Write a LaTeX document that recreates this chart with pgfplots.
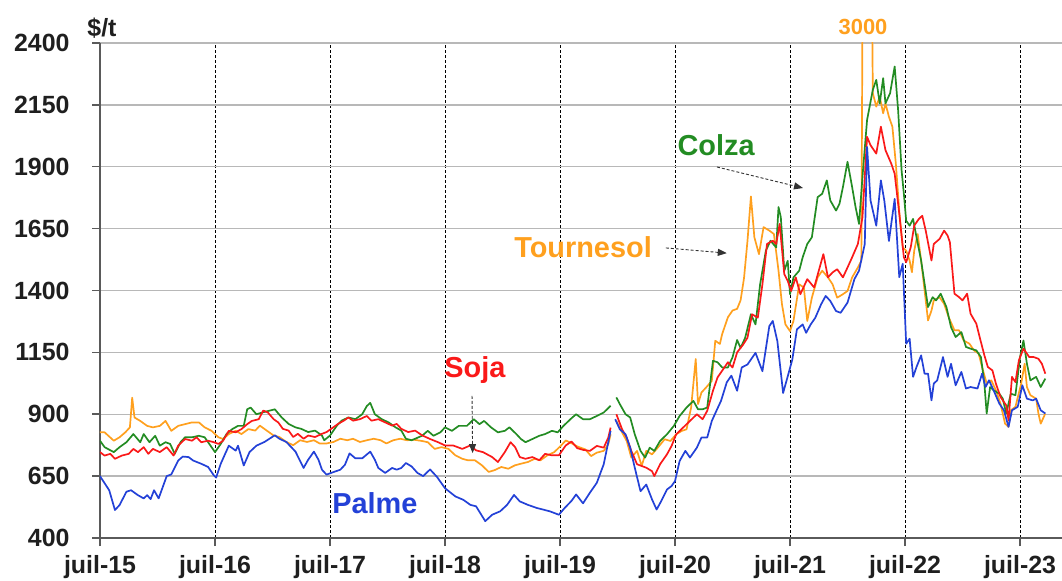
\documentclass[border=0pt]{standalone}
\usepackage{fontspec}
\setmainfont{Liberation Sans}
\usepackage{pgfplots}
\usepackage{pgfplotstable}
\pgfplotsset{compat=1.18}
\usetikzlibrary{arrows.meta}

\definecolor{cpalme}{RGB}{35,65,215}
\definecolor{csoja}{RGB}{250,25,25}
\definecolor{ccolza}{RGB}{35,140,35}
\definecolor{ctourn}{RGB}{255,160,30}
\definecolor{axgray}{RGB}{90,90,90}

\pgfplotstableread{
x y
2015.50 650
2015.58 593
2015.63 513
2015.67 533
2015.73 587
2015.77 593
2015.83 573
2015.88 560
2015.91 573
2015.94 557
2015.97 593
2016.01 560
2016.08 650
2016.12 657
2016.18 713
2016.22 729
2016.27 727
2016.31 713
2016.38 700
2016.44 687
2016.49 653
2016.51 644
2016.55 700
2016.62 773
2016.68 753
2016.70 773
2016.75 693
2016.80 747
2016.86 773
2016.93 788
2017.02 815
2017.06 801
2017.12 788
2017.20 749
2017.27 683
2017.31 716
2017.36 749
2017.40 716
2017.43 676
2017.47 656
2017.51 663
2017.59 676
2017.63 696
2017.67 742
2017.72 722
2017.78 722
2017.85 749
2017.89 716
2017.92 683
2017.98 663
2018.04 683
2018.08 676
2018.12 683
2018.16 703
2018.21 689
2018.26 663
2018.31 650
2018.37 677
2018.43 647
2018.50 601
2018.59 568
2018.66 554
2018.72 534
2018.77 528
2018.85 468
2018.91 494
2018.98 508
2019.04 534
2019.10 574
2019.15 548
2019.22 534
2019.30 521
2019.36 514
2019.41 508
2019.49 494
2019.54 521
2019.60 550
2019.64 576
2019.70 540
2019.76 583
2019.82 623
2019.88 698
2019.94 833
2019.96 nan
2019.98 880
2020.02 839
2020.07 819
2020.11 765
2020.15 684
2020.20 589
2020.25 616
2020.30 556
2020.34 515
2020.38 549
2020.43 596
2020.47 610
2020.50 630
2020.54 711
2020.59 752
2020.63 725
2020.69 765
2020.73 806
2020.78 806
2020.82 873
2020.86 914
2020.90 954
2020.95 1029
2020.99 1056
2021.04 995
2021.08 1089
2021.13 1101
2021.20 1148
2021.26 1074
2021.32 1256
2021.35 1277
2021.39 1195
2021.44 986
2021.48 1053
2021.52 1121
2021.56 1243
2021.61 1263
2021.64 1229
2021.68 1263
2021.72 1290
2021.77 1344
2021.81 1378
2021.85 1358
2021.90 1317
2021.94 1310
2022.00 1351
2022.06 1446
2022.10 1480
2022.15 1588
2022.17 1980
2022.20 1764
2022.25 1662
2022.29 1845
2022.32 1763
2022.36 1600
2022.41 1770
2022.45 1454
2022.48 1508
2022.51 1185
2022.54 1205
2022.57 1051
2022.60 1091
2022.64 1138
2022.67 1064
2022.70 1064
2022.73 956
2022.75 1024
2022.78 1037
2022.83 1131
2022.87 1051
2022.90 1104
2022.94 1017
2022.99 1071
2023.03 1004
2023.07 1010
2023.13 1004
2023.17 1064
2023.20 1010
2023.23 1037
2023.27 997
2023.32 943
2023.36 916
2023.40 849
2023.43 916
2023.48 930
2023.52 1017
2023.56 963
2023.61 956
2023.64 963
2023.68 916
2023.72 903
}\palme

\pgfplotstableread{
x y
2015.50 747
2015.54 733
2015.59 740
2015.63 720
2015.69 733
2015.75 740
2015.79 760
2015.83 747
2015.88 767
2015.92 740
2015.96 760
2016.02 747
2016.08 767
2016.14 733
2016.18 773
2016.24 800
2016.30 793
2016.34 807
2016.38 787
2016.44 793
2016.49 787
2016.53 780
2016.57 793
2016.62 833
2016.68 827
2016.73 840
2016.78 860
2016.82 873
2016.88 880
2016.92 915
2016.96 907
2017.01 880
2017.05 867
2017.09 841
2017.14 834
2017.18 808
2017.22 821
2017.27 801
2017.31 814
2017.37 808
2017.43 821
2017.47 828
2017.51 841
2017.57 861
2017.62 874
2017.66 887
2017.70 874
2017.76 880
2017.82 893
2017.86 874
2017.92 880
2017.98 867
2018.04 854
2018.08 861
2018.12 841
2018.18 828
2018.24 834
2018.30 815
2018.37 800
2018.44 787
2018.50 774
2018.57 774
2018.65 760
2018.72 774
2018.77 754
2018.83 747
2018.91 727
2018.96 707
2019.02 747
2019.07 787
2019.11 767
2019.15 727
2019.20 720
2019.26 727
2019.32 714
2019.37 740
2019.43 734
2019.49 734
2019.55 774
2019.60 790
2019.65 763
2019.70 756
2019.76 752
2019.82 772
2019.88 765
2019.92 806
2019.94 846
2019.96 nan
2019.99 900
2020.04 839
2020.08 806
2020.12 752
2020.17 698
2020.21 691
2020.25 684
2020.30 670
2020.32 650
2020.37 698
2020.43 738
2020.47 772
2020.51 819
2020.57 846
2020.63 873
2020.69 900
2020.74 880
2020.78 914
2020.83 995
2020.87 1049
2020.91 1076
2020.96 1110
2021.00 1089
2021.04 1150
2021.09 1180
2021.13 1209
2021.17 1304
2021.22 1290
2021.26 1425
2021.30 1588
2021.35 1601
2021.38 1588
2021.41 1669
2021.45 1466
2021.48 1439
2021.51 1398
2021.55 1453
2021.59 1385
2021.65 1446
2021.71 1412
2021.75 1480
2021.79 1547
2021.83 1453
2021.87 1473
2021.91 1486
2021.96 1453
2022.00 1493
2022.04 1534
2022.09 1588
2022.13 1696
2022.17 2021
2022.20 1987
2022.25 1953
2022.29 2062
2022.33 1967
2022.38 1913
2022.41 1872
2022.45 1710
2022.49 1534
2022.51 1514
2022.55 1575
2022.58 1662
2022.62 1689
2022.65 1702
2022.68 1642
2022.73 1521
2022.75 1588
2022.80 1608
2022.84 1642
2022.87 1622
2022.89 1595
2022.93 1387
2022.97 1373
2023.00 1360
2023.04 1387
2023.07 1306
2023.12 1266
2023.16 1192
2023.19 1138
2023.22 1091
2023.26 1077
2023.29 1024
2023.33 970
2023.38 936
2023.40 876
2023.43 1051
2023.46 1030
2023.49 1118
2023.53 1165
2023.58 1131
2023.62 1131
2023.66 1124
2023.69 1104
2023.72 1064
}\soja

\pgfplotstableread{
x y
2015.50 793
2015.54 767
2015.62 747
2015.67 767
2015.73 787
2015.79 820
2015.85 787
2015.88 820
2015.93 787
2015.98 813
2016.02 773
2016.07 787
2016.11 780
2016.15 740
2016.20 787
2016.24 807
2016.30 807
2016.36 813
2016.41 807
2016.47 767
2016.50 747
2016.55 780
2016.60 820
2016.65 840
2016.70 853
2016.75 853
2016.78 920
2016.81 927
2016.86 900
2016.91 907
2016.96 913
2017.02 920
2017.08 887
2017.14 861
2017.20 847
2017.25 841
2017.31 828
2017.37 834
2017.43 814
2017.45 795
2017.50 814
2017.56 854
2017.60 874
2017.66 887
2017.72 880
2017.78 900
2017.82 933
2017.85 946
2017.89 900
2017.95 880
2018.01 867
2018.07 847
2018.12 834
2018.16 801
2018.21 795
2018.26 805
2018.30 813
2018.35 833
2018.40 813
2018.46 827
2018.50 847
2018.56 833
2018.62 853
2018.69 853
2018.75 880
2018.80 860
2018.84 873
2018.90 847
2018.96 827
2019.02 833
2019.06 847
2019.12 820
2019.16 800
2019.20 787
2019.26 800
2019.32 813
2019.37 820
2019.43 833
2019.48 827
2019.53 853
2019.60 884
2019.64 900
2019.70 880
2019.76 880
2019.82 893
2019.88 907
2019.94 934
2019.96 nan
2019.99 968
2020.02 941
2020.07 900
2020.11 887
2020.15 819
2020.20 752
2020.24 725
2020.28 765
2020.32 752
2020.37 792
2020.43 819
2020.49 853
2020.54 893
2020.60 927
2020.66 954
2020.70 920
2020.74 920
2020.78 927
2020.83 1116
2020.87 1110
2020.91 1089
2020.96 1089
2021.00 1130
2021.04 1200
2021.07 1168
2021.11 1209
2021.16 1304
2021.20 1263
2021.24 1425
2021.29 1561
2021.33 1601
2021.38 1574
2021.40 1737
2021.42 1696
2021.45 1480
2021.48 1520
2021.50 1385
2021.53 1453
2021.58 1480
2021.61 1534
2021.65 1588
2021.69 1615
2021.74 1777
2021.78 1791
2021.82 1845
2021.85 1764
2021.90 1723
2021.93 1750
2021.96 1818
2022.00 1920
2022.04 1818
2022.07 1737
2022.10 1669
2022.13 1859
2022.17 2089
2022.22 2211
2022.25 2251
2022.28 2156
2022.31 2258
2022.33 2156
2022.37 2197
2022.41 2305
2022.44 2129
2022.47 1886
2022.49 1790
2022.51 1682
2022.54 1662
2022.57 1689
2022.60 1615
2022.64 1521
2022.67 1427
2022.70 1333
2022.74 1373
2022.77 1360
2022.81 1387
2022.86 1333
2022.90 1252
2022.94 1212
2022.99 1232
2023.03 1172
2023.07 1165
2023.12 1158
2023.16 1131
2023.19 1024
2023.21 903
2023.24 1010
2023.27 997
2023.32 983
2023.35 963
2023.38 903
2023.42 983
2023.46 977
2023.50 1131
2023.53 1198
2023.56 1104
2023.59 1037
2023.64 1051
2023.68 1010
2023.72 1044
}\colza

\pgfplotstableread{
x y
2015.50 827
2015.54 827
2015.62 793
2015.67 807
2015.72 827
2015.76 847
2015.78 967
2015.80 887
2015.85 873
2015.91 853
2015.96 847
2016.02 853
2016.07 873
2016.12 833
2016.18 853
2016.24 860
2016.30 867
2016.36 867
2016.41 847
2016.47 833
2016.53 807
2016.57 800
2016.62 820
2016.68 833
2016.73 820
2016.79 840
2016.85 834
2016.89 854
2016.95 834
2017.01 814
2017.06 808
2017.12 788
2017.18 775
2017.24 795
2017.30 788
2017.36 795
2017.41 782
2017.47 782
2017.53 788
2017.59 801
2017.65 795
2017.70 801
2017.76 788
2017.82 795
2017.88 801
2017.94 795
2017.99 782
2018.05 795
2018.11 801
2018.17 795
2018.23 797
2018.30 792
2018.35 787
2018.41 760
2018.47 767
2018.53 760
2018.59 734
2018.65 720
2018.70 714
2018.76 714
2018.82 694
2018.88 667
2018.93 674
2018.99 687
2019.05 680
2019.11 694
2019.16 700
2019.22 707
2019.28 720
2019.33 714
2019.39 734
2019.45 747
2019.51 774
2019.55 794
2019.60 783
2019.65 770
2019.72 758
2019.77 731
2019.82 745
2019.88 752
2019.92 779
2019.94 819
2019.96 nan
2019.99 873
2020.04 826
2020.08 792
2020.12 725
2020.17 752
2020.21 691
2020.25 752
2020.30 738
2020.35 765
2020.41 799
2020.46 792
2020.51 819
2020.56 833
2020.60 839
2020.64 927
2020.68 1123
2020.70 941
2020.73 988
2020.77 1008
2020.82 1035
2020.85 1197
2020.89 1184
2020.91 1224
2020.96 1292
2021.00 1319
2021.04 1326
2021.07 1360
2021.10 1450
2021.13 1600
2021.16 1780
2021.19 1615
2021.23 1547
2021.27 1656
2021.32 1642
2021.36 1628
2021.40 1480
2021.43 1344
2021.46 1263
2021.50 1236
2021.53 1277
2021.58 1425
2021.62 1412
2021.65 1277
2021.69 1371
2021.74 1453
2021.78 1480
2021.83 1453
2021.87 1425
2021.91 1371
2021.96 1385
2022.00 1398
2022.04 1453
2022.09 1493
2022.12 1520
2022.135 3000
2022.205 3000
2022.22 2197
2022.25 2143
2022.28 2183
2022.31 2116
2022.33 2156
2022.36 2102
2022.39 2062
2022.42 1913
2022.45 1720
2022.48 1575
2022.51 1561
2022.54 1521
2022.56 1474
2022.58 1561
2022.61 1628
2022.64 1521
2022.67 1400
2022.70 1279
2022.73 1319
2022.75 1360
2022.80 1373
2022.84 1346
2022.88 1292
2022.93 1239
2022.97 1239
2023.01 1198
2023.06 1185
2023.10 1158
2023.14 1145
2023.17 1091
2023.21 1024
2023.25 1037
2023.29 997
2023.33 943
2023.37 862
2023.40 849
2023.42 916
2023.46 930
2023.51 1024
2023.54 1104
2023.56 1010
2023.59 977
2023.64 963
2023.66 903
2023.68 862
2023.72 903
}\tournesol

\begin{document}
\begin{tikzpicture}
\begin{axis}[
  name=ax,
  scale only axis, width=962bp, height=495bp,
  xmin=2015.5, xmax=2023.865, ymin=400, ymax=2400,
  axis x line*=bottom, axis y line*=left,
  axis line style={axgray, line width=2.5bp},
  xtick={2015.5,2016.5,2017.5,2018.5,2019.5,2020.5,2021.5,2022.5,2023.5},
  xticklabels={juil-15,juil-16,juil-17,juil-18,juil-19,juil-20,juil-21,juil-22,juil-23},
  ytick={400,650,900,1150,1400,1650,1900,2150,2400},
  yticklabels={400,650,900,1150,1400,1650,1900,2150,2400},
  tick align=outside, major tick length=8bp,
  tick style={axgray, line width=1.5bp},
  xmajorgrids, ymajorgrids,
  x grid style={black, dash pattern=on 3bp off 2bp, line width=1bp},
  y grid style={black!28, line width=1.3bp},
  ticklabel style={font=\fontsize{25}{25}\selectfont\bfseries, text=black!88},
  yticklabel style={xshift=-19bp},
  xticklabel style={yshift=-6bp},
  unbounded coords=jump,
  every axis plot/.append style={line width=1.7bp, line join=round},
]
\addplot[ctourn, no marks] table {\tournesol};
\addplot[ccolza, no marks] table {\colza};
\addplot[csoja, no marks] table {\soja};
\addplot[cpalme, no marks] table {\palme};
\coordinate (O) at (rel axis cs:0,0);
\coordinate (tColza) at (axis cs:2020.857,1988);
\coordinate (aColza1) at (axis cs:2020.865,1899);
\coordinate (aColza2) at (axis cs:2021.613,1814);
\coordinate (tTourn) at (axis cs:2019.70,1576);
\coordinate (aTourn1) at (axis cs:2020.42,1572);
\coordinate (aTourn2) at (axis cs:2020.95,1551);
\coordinate (tSoja) at (axis cs:2018.76,1079);
\coordinate (aSoja1) at (axis cs:2018.735,974);
\coordinate (aSoja2) at (axis cs:2018.74,743);
\coordinate (tPalme) at (axis cs:2017.89,541);
\coordinate (t3000) at (axis cs:2022.135,2464);
\end{axis}
\node[font=\fontsize{29}{29}\selectfont\bfseries, text=ccolza] at (tColza) {Colza};
\node[font=\fontsize{29}{29}\selectfont\bfseries, text=ctourn] at (tTourn) {Tournesol};
\node[font=\fontsize{29}{29}\selectfont\bfseries, text=csoja] at (tSoja) {Soja};
\node[font=\fontsize{29}{29}\selectfont\bfseries, text=cpalme] at (tPalme) {Palme};
\node[font=\fontsize{22}{22}\selectfont\bfseries, text=ctourn] at (t3000) {3000};
\node[font=\fontsize{25}{25}\selectfont\bfseries, text=black!88] at ([shift={(2bp,510bp)}]O) {\$/t};
\draw[black!80, line width=0.9bp, densely dashed, -{Triangle[length=9bp,width=7bp]}] (aColza1) -- (aColza2);
\draw[black!80, line width=0.9bp, densely dashed, -{Triangle[length=9bp,width=7bp]}] (aTourn1) -- (aTourn2);
\draw[black!80, line width=0.9bp, densely dashed, -{Triangle[length=9bp,width=7bp]}] (aSoja1) -- (aSoja2);
\pgfresetboundingbox
\path[use as bounding box] ([shift={(-100bp,-43bp)}]O) rectangle ([shift={(962bp,538bp)}]O);
\end{tikzpicture}
\end{document}
